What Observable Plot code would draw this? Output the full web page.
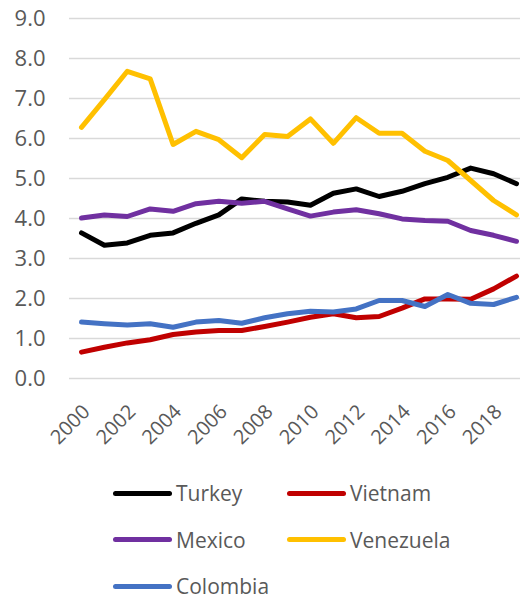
<!DOCTYPE html>
<html>
<head>
<meta charset="utf-8">
<script src="https://cdn.jsdelivr.net/npm/d3@7"></script>
<script src="https://cdn.jsdelivr.net/npm/@observablehq/plot@0.6"></script>
<style>
  html, body { margin: 0; padding: 0; background: #fff; }
  body { width: 520px; height: 601px; overflow: hidden; font-family: "Open Sans", sans-serif; }
  #chart svg { display: block; }
  #legend { display: grid; grid-template-columns: 174px 174px; grid-auto-rows: 24px; row-gap: 22.5px; padding-left: 113px; padding-top: 21px; }
  .item { display: flex; align-items: center; font-size: 21px; line-height: 24px; color: #595959; }
  .sw { width: 59px; height: 5px; border-radius: 3px; margin-right: 4px; }
</style>
</head>
<body>
<div id="chart"></div>
<div id="legend"></div>
<script>
const years = [2000,2001,2002,2003,2004,2005,2006,2007,2008,2009,2010,2011,2012,2013,2014,2015,2016,2017,2018,2019];
const xTickYears = [2000,2002,2004,2006,2008,2010,2012,2014,2016,2018];
const yTicks = [0,1,2,3,4,5,6,7,8,9];
const seriesNames = ["Turkey","Vietnam","Mexico","Venezuela","Colombia"];
const seriesColors = ["#000000","#C00000","#7030A0","#FFC000","#4472C4"];
const turkey    = [3.64,3.33,3.39,3.58,3.64,3.88,4.09,4.49,4.43,4.41,4.33,4.63,4.74,4.55,4.68,4.87,5.03,5.26,5.12,4.87];
const vietnam   = [0.66,0.78,0.89,0.97,1.10,1.16,1.20,1.20,1.30,1.41,1.53,1.62,1.52,1.55,1.76,1.99,1.99,1.98,2.24,2.56];
const mexico    = [4.01,4.09,4.05,4.24,4.18,4.37,4.43,4.38,4.43,4.24,4.06,4.16,4.22,4.12,3.99,3.95,3.93,3.70,3.58,3.43];
const venezuela = [6.28,6.97,7.68,7.49,5.85,6.18,5.97,5.52,6.10,6.05,6.49,5.88,6.52,6.13,6.13,5.68,5.45,4.95,4.45,4.09];
const colombia  = [1.41,1.37,1.34,1.37,1.28,1.41,1.45,1.38,1.52,1.62,1.68,1.66,1.74,1.95,1.95,1.80,2.10,1.88,1.85,2.03];

const values = [turkey, vietnam, mexico, venezuela, colombia];
const data = seriesNames.flatMap((name, i) => years.map((year, j) => ({name, year, value: values[i][j]})));

const chart = Plot.plot({
  width: 520,
  height: 460,
  marginTop: 18,
  marginBottom: 82,
  marginLeft: 69,
  marginRight: 0,
  style: {fontFamily: "'Open Sans', sans-serif", fontSize: "22px", color: "#595959", background: "#fff"},
  x: {type: "linear", domain: [2000, 2019], range: [81, 516]},
  y: {domain: [0, 9]},
  color: {domain: seriesNames, range: seriesColors},
  marks: [
    Plot.gridY(yTicks, {stroke: "#d9d9d9", strokeOpacity: 1, strokeWidth: 1.5}),
    Plot.axisY(yTicks, {tickSize: 0, tickPadding: 24, tickFormat: d => d.toFixed(1), fill: "#595959", fontSize: 22, label: null}),
    Plot.axisX(xTickYears, {tickSize: 0, tickRotate: -45, tickFormat: d => String(d), fill: "#595959", fontSize: 20, label: null, tickPadding: 30, dx: 5}),
    Plot.line(data, {x: "year", y: "value", z: "name", stroke: "name", strokeWidth: 5, strokeLinejoin: "round", strokeLinecap: "round"})
  ]
});
document.getElementById("chart").appendChild(chart);

const legend = document.getElementById("legend");
seriesNames.forEach((name, i) => {
  const item = document.createElement("div");
  item.className = "item";
  const sw = document.createElement("span");
  sw.className = "sw";
  sw.style.background = seriesColors[i];
  const t = document.createElement("span");
  t.textContent = name;
  item.appendChild(sw);
  item.appendChild(t);
  legend.appendChild(item);
});
</script>
</body>
</html>
